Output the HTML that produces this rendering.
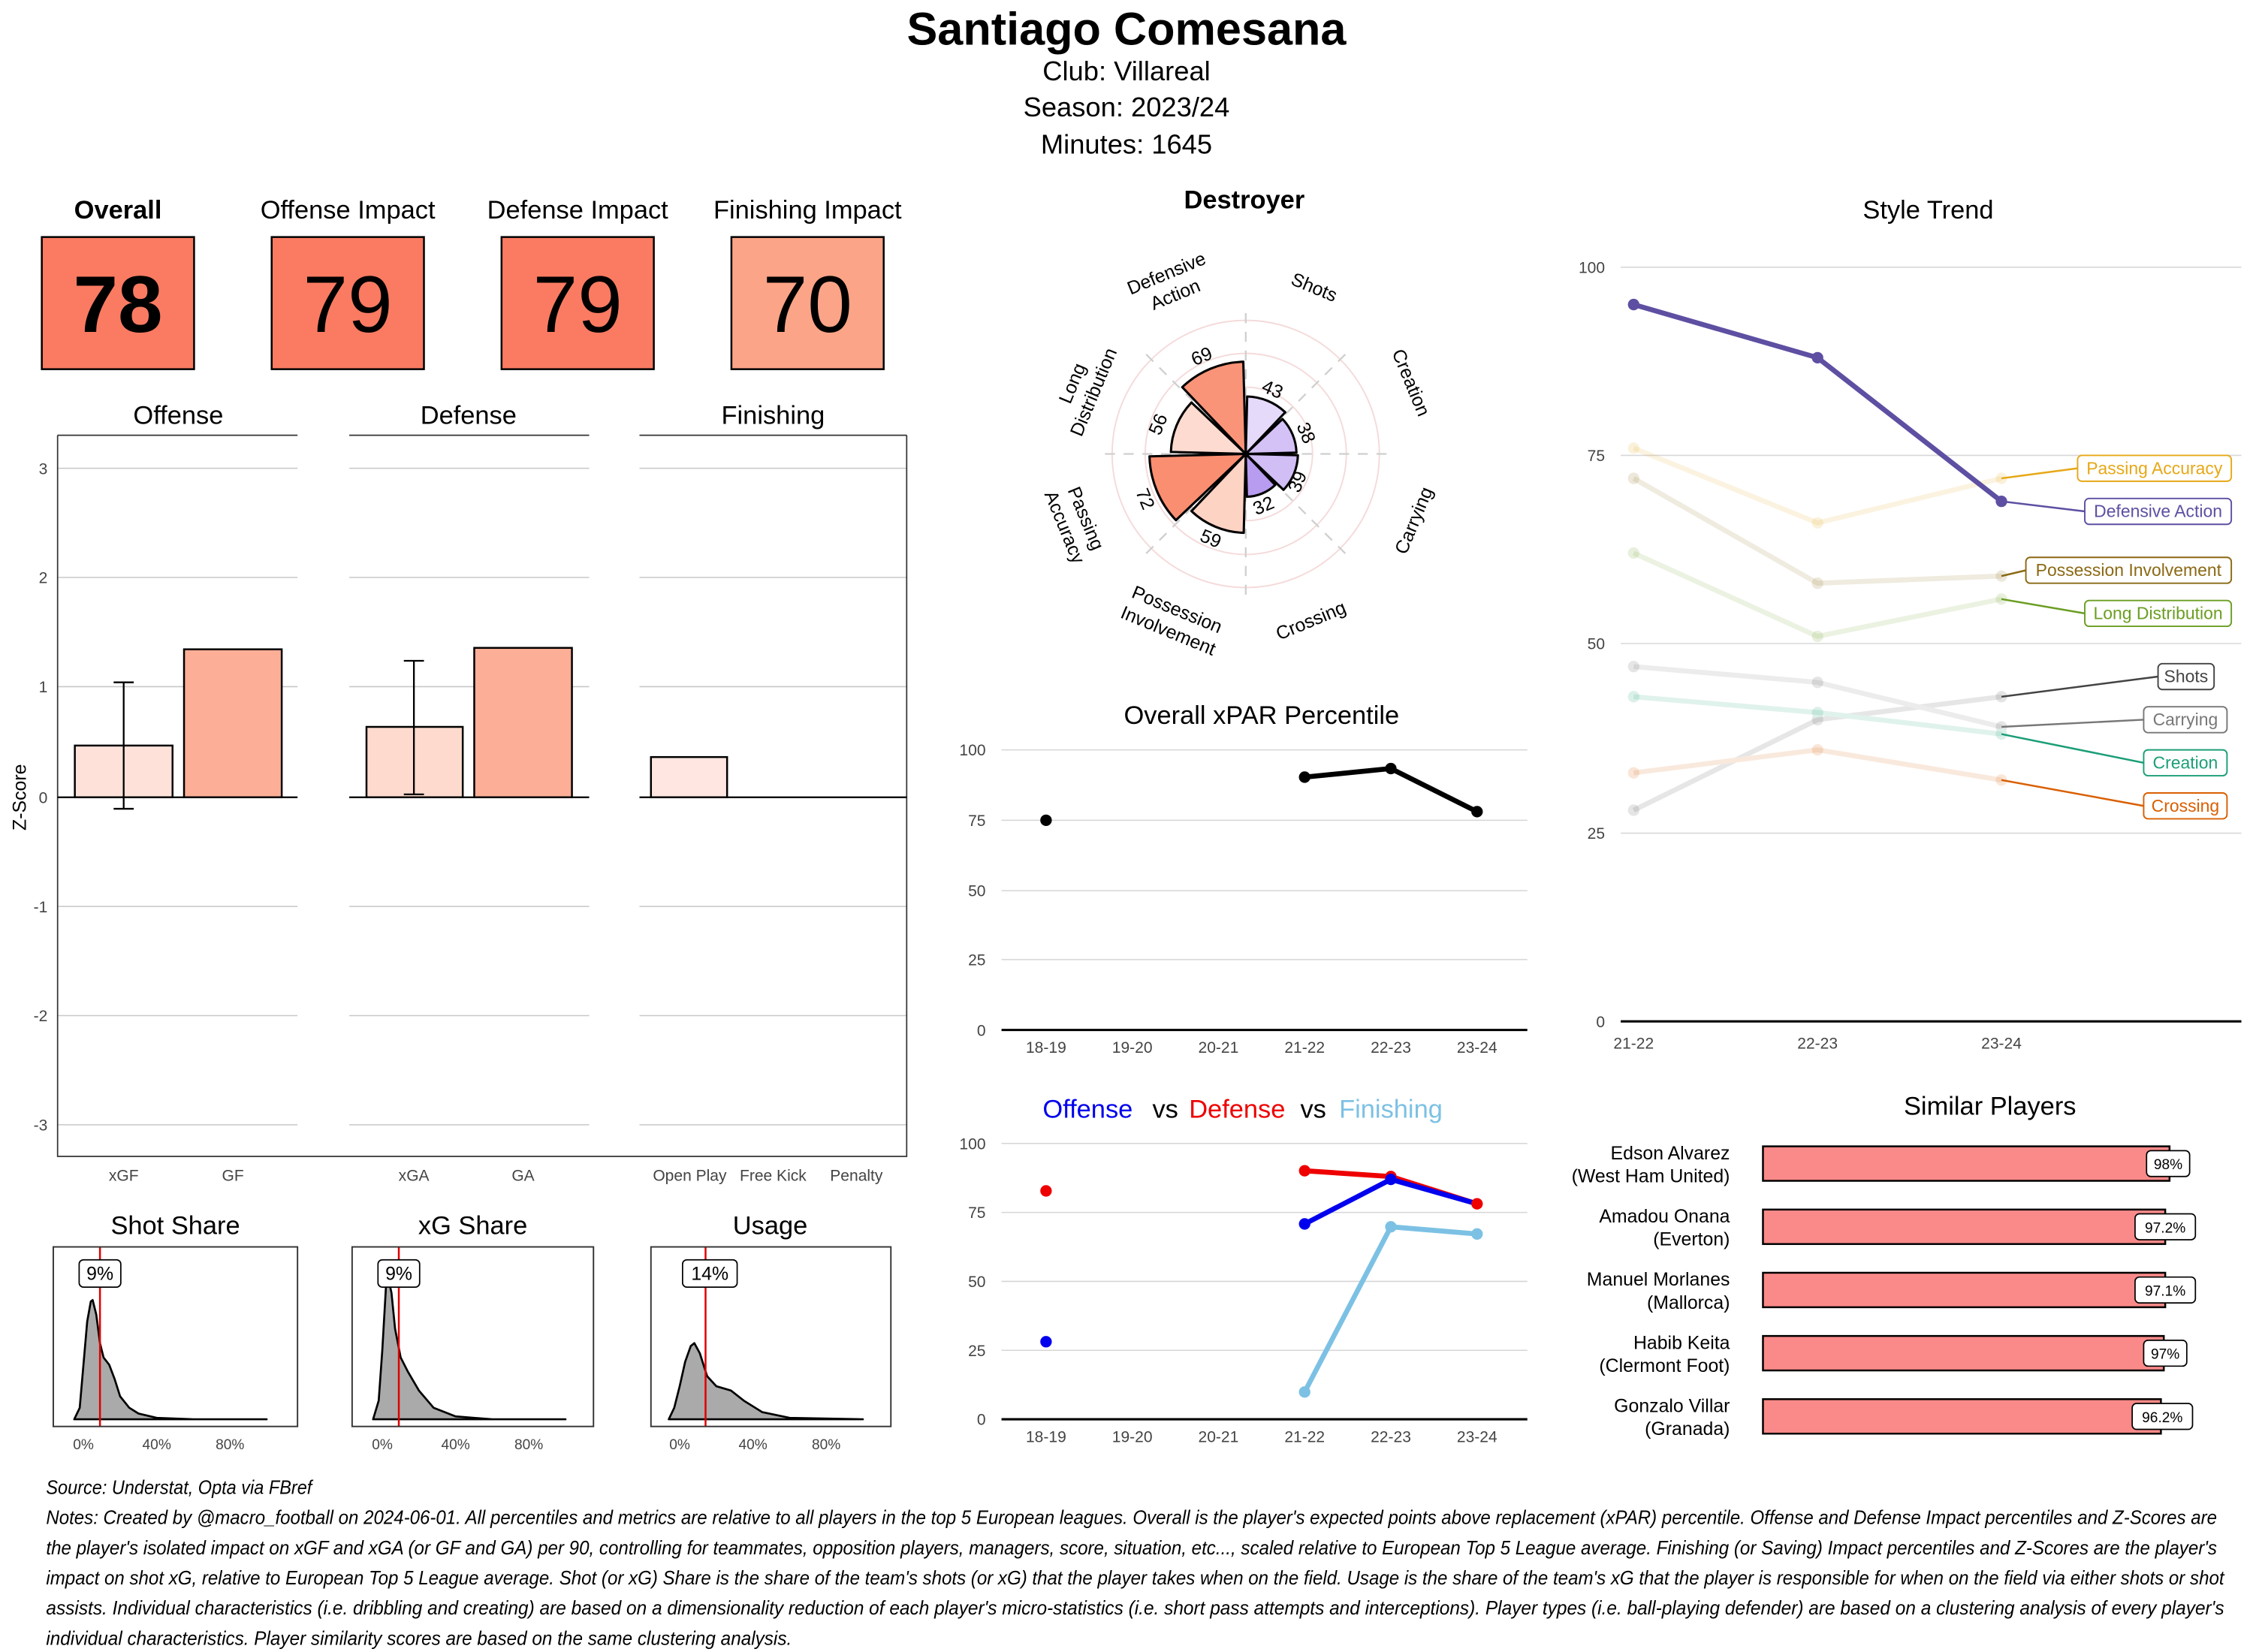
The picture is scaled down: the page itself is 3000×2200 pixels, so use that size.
<!DOCTYPE html>
<html><head><meta charset="utf-8"><style>
html,body{margin:0;padding:0;background:#fff}
svg{display:block}
text{font-family:"Liberation Sans Narrow","Liberation Sans",sans-serif}
.a{font-family:"Liberation Sans",sans-serif}
</style></head><body>
<svg width="3000" height="2200" viewBox="0 0 1568 1150" xmlns="http://www.w3.org/2000/svg">
<rect width="1568" height="1150" fill="#fff"/>
<!-- Header -->
<text x="784" y="31" font-size="32" font-weight="bold" text-anchor="middle">Santiago Comesana</text>
<text x="784" y="56" font-size="19" text-anchor="middle">Club:  Villareal</text>
<text x="784" y="81" font-size="19" text-anchor="middle">Season:  2023/24</text>
<text x="784" y="107" font-size="19" text-anchor="middle">Minutes:  1645</text>

<!-- Score cards -->
<g font-size="18" text-anchor="middle">
<text x="82" y="152" font-weight="bold">Overall</text>
<text x="242" y="152">Offense Impact</text>
<text x="402" y="152">Defense Impact</text>
<text x="562" y="152">Finishing Impact</text>
</g>
<g stroke="#000" stroke-width="1.3">
<rect x="29" y="165" width="106" height="92" fill="#FA7B62"/>
<rect x="189" y="165" width="106" height="92" fill="#FA7B62"/>
<rect x="349" y="165" width="106" height="92" fill="#FA7B62"/>
<rect x="509" y="165" width="106" height="92" fill="#FCA487"/>
</g>
<g font-size="56" text-anchor="middle">
<text x="82" y="231" font-weight="bold">78</text>
<text x="242" y="231">79</text>
<text x="402" y="231">79</text>
<text x="562" y="231">70</text>
</g>

<!-- Z-score bar panels -->
<g font-size="18" text-anchor="middle">
<text x="124" y="295">Offense</text>
<text x="326" y="295">Defense</text>
<text x="538" y="295">Finishing</text>
</g>
<g stroke="#c8c8c8" stroke-width="0.8">
<path d="M40 326H207M40 402H207M40 478H207M40 631H207M40 707H207M40 783H207"/>
<path d="M243 326H410M243 402H410M243 478H410M243 631H410M243 707H410M243 783H410"/>
<path d="M445 326H631M445 402H631M445 478H631M445 631H631M445 707H631M445 783H631"/>
</g>
<g stroke="#333" stroke-width="0.9" fill="none">
<path d="M40 303H207M243 303H410M445 303H631"/>
<path d="M40 303V805H631V303"/>
</g>
<g font-size="11" fill="#444" text-anchor="end" class="a">
<text x="33" y="330">3</text><text x="33" y="406">2</text><text x="33" y="482">1</text>
<text x="33" y="559">0</text><text x="33" y="635">-1</text><text x="33" y="711">-2</text><text x="33" y="787">-3</text>
</g>
<text x="18" y="555" font-size="13" class="a" text-anchor="middle" transform="rotate(-90 18 555)">Z-Score</text>
<g stroke="#000" stroke-width="1.3">
<rect x="52" y="519" width="68" height="36" fill="#FEE2DA"/>
<rect x="128" y="452" width="68" height="103" fill="#FCAE96"/>
<rect x="255" y="506" width="67" height="49" fill="#FDDACD"/>
<rect x="330" y="451" width="68" height="104" fill="#FCAE96"/>
<rect x="453" y="527" width="53" height="28" fill="#FFE6E0"/>
</g>
<g stroke="#000" stroke-width="1.2" fill="none">
<path d="M86 563V475M79 563H93M79 475H93"/>
<path d="M288 553V460M281 553H295M281 460H295"/>
</g>
<path d="M40 555H207M243 555H410M445 555H631" stroke="#000" stroke-width="1.2"/>
<g font-size="11" fill="#444" text-anchor="middle" class="a">
<text x="86" y="822">xGF</text><text x="162" y="822">GF</text>
<text x="288" y="822">xGA</text><text x="364" y="822">GA</text>
<text x="480" y="822">Open Play</text><text x="538" y="822">Free Kick</text><text x="596" y="822">Penalty</text>
</g>

<!-- Density panels -->
<g font-size="18" text-anchor="middle">
<text x="122" y="859">Shot Share</text>
<text x="329" y="859">xG Share</text>
<text x="536" y="859">Usage</text>
</g>
<g fill="#AAAAAA" stroke="#000" stroke-width="1.4" stroke-linejoin="round">
<path d="M51.6 988 L55.4 980 L58 950 L60.6 920 L63.1 906 L64.4 905 L66.9 915 L69.5 935 L72 945 L75.9 950 L79.7 960 L83.5 972 L89.9 980 L96.3 984 L109 987 L134.5 988 L185.5 988 Z"/>
<path d="M259.6 988 L263.5 975 L266 940 L268.6 895 L269.8 888 L272.4 900 L274.9 925 L278.8 945 L283.9 955 L291.5 968 L301.7 980 L317 986 L342.5 988 L393.5 988 Z"/>
<path d="M465.4 988 L469.2 980 L473 965 L476.8 948 L480.7 937 L483.2 935 L487 942 L492.1 958 L498.5 965 L508.7 968 L517.6 975 L530.4 983 L549.5 987 L600.5 988 Z"/>
</g>
<g stroke="#E00000" stroke-width="1.3">
<path d="M69.5 868V993M277.5 868V993M491 868V993"/>
</g>
<g fill="none" stroke="#333" stroke-width="1">
<rect x="37" y="868" width="170" height="125"/>
<rect x="245" y="868" width="168" height="125"/>
<rect x="453" y="868" width="167" height="125"/>
</g>
<g fill="#fff" stroke="#000" stroke-width="0.9">
<rect x="55" y="877" width="29" height="19" rx="3"/>
<rect x="263" y="877" width="29" height="19" rx="3"/>
<rect x="475" y="877" width="38" height="19" rx="3"/>
</g>
<g font-size="13" text-anchor="middle" class="a">
<text x="69.5" y="891">9%</text><text x="277.5" y="891">9%</text><text x="494" y="891">14%</text>
</g>
<g font-size="10" fill="#444" text-anchor="middle" class="a">
<text x="58" y="1009">0%</text><text x="109" y="1009">40%</text><text x="160" y="1009">80%</text>
<text x="266" y="1009">0%</text><text x="317" y="1009">40%</text><text x="368" y="1009">80%</text>
<text x="473" y="1009">0%</text><text x="524" y="1009">40%</text><text x="575" y="1009">80%</text>
</g>

<!-- Polar -->
<text x="866" y="145" font-size="18" font-weight="bold" text-anchor="middle">Destroyer</text>
<g fill="none" stroke="#F5DADA" stroke-width="1">
<circle cx="867" cy="316" r="23"/><circle cx="867" cy="316" r="46.5"/>
<circle cx="867" cy="316" r="70"/><circle cx="867" cy="316" r="93"/>
</g>
<g stroke="#cfcfcf" stroke-width="1.2" stroke-dasharray="7,6">
<path d="M867 316V212M867 316V420M867 316H763M867 316H971M867 316L940.5 242.5M867 316L793.5 242.5M867 316L940.5 389.5M867 316L793.5 389.5"/>
</g>
<g stroke="#000" stroke-width="1.6" stroke-linejoin="round">
<path d="M867 316L868 276A40 40 0 0 1 894.5 287Z" fill="#E6DAFB"/>
<path d="M867 316L892.6 291.7A35.3 35.3 0 0 1 902.3 315.1Z" fill="#D4C2F7"/>
<path d="M867 316L903.3 316.9A36.3 36.3 0 0 1 893.3 341Z" fill="#D0BEF5"/>
<path d="M867 316L887.5 337.6A29.8 29.8 0 0 1 867.8 345.8Z" fill="#B89CF0"/>
<path d="M867 316L865.6 370.9A54.9 54.9 0 0 1 829.2 355.8Z" fill="#FDD3C4"/>
<path d="M867 316L818.4 362.1A67 67 0 0 1 800 317.7Z" fill="#FA8E70"/>
<path d="M867 316L814.9 314.6A52.1 52.1 0 0 1 829.2 280.2Z" fill="#FDDBD0"/>
<path d="M867 316L822.8 269.5A64.2 64.2 0 0 1 865.3 251.8Z" fill="#FA9478"/>
</g>
<g font-size="13" text-anchor="middle" class="a">
<text transform="translate(838,252) rotate(-22.5)">69</text>
<text transform="translate(884,275) rotate(22.5)">43</text>
<text transform="translate(905,303) rotate(67.5)">38</text>
<text transform="translate(907,337) rotate(-67.5)">39</text>
<text transform="translate(881,356) rotate(-22.5)">32</text>
<text transform="translate(841,379) rotate(22.5)">59</text>
<text transform="translate(793,349) rotate(67.5)">72</text>
<text transform="translate(810,297) rotate(-67.5)">56</text>
</g>
<g font-size="13" text-anchor="middle" class="a">
<text transform="translate(815,198) rotate(-22.5)"><tspan x="0" y="-4">Defensive</tspan><tspan x="0" y="12">Action</tspan></text>
<text transform="translate(913,204) rotate(22.5)">Shots</text>
<text transform="translate(978,268) rotate(67.5)">Creation</text>
<text transform="translate(988,364) rotate(-67.5)">Carrying</text>
<text transform="translate(914,436) rotate(-22.5)">Crossing</text>
<text transform="translate(816,432) rotate(22.5)"><tspan x="0" y="-4">Possession</tspan><tspan x="0" y="12">Involvement</tspan></text>
<text transform="translate(748,364) rotate(67.5)"><tspan x="0" y="-4">Passing</tspan><tspan x="0" y="12">Accuracy</tspan></text>
<text transform="translate(754,270) rotate(-67.5)"><tspan x="0" y="-4">Long</tspan><tspan x="0" y="12">Distribution</tspan></text>
</g>

<!-- Overall xPAR -->
<text x="878" y="504" font-size="18" text-anchor="middle">Overall xPAR Percentile</text>
<g stroke="#d5d5d5" stroke-width="0.8"><path d="M697 522H1063M697 571H1063M697 620H1063M697 668H1063"/></g>
<path d="M697 717H1063" stroke="#000" stroke-width="1.6"/>
<g font-size="11" fill="#444" text-anchor="end" class="a">
<text x="686" y="526">100</text><text x="686" y="575">75</text><text x="686" y="624">50</text><text x="686" y="672">25</text><text x="686" y="721">0</text>
</g>
<g font-size="11" fill="#444" text-anchor="middle" class="a">
<text x="728" y="733">18-19</text><text x="788" y="733">19-20</text><text x="848" y="733">20-21</text><text x="908" y="733">21-22</text><text x="968" y="733">22-23</text><text x="1028" y="733">23-24</text>
</g>
<polyline points="908,541 968,535 1028,565" fill="none" stroke="#000" stroke-width="3.5" stroke-linejoin="round"/>
<g fill="#000"><circle cx="728" cy="571" r="4"/><circle cx="908" cy="541" r="4"/><circle cx="968" cy="535" r="4"/><circle cx="1028" cy="565" r="4"/></g>

<!-- Off vs Def vs Fin -->
<g font-size="18" text-anchor="middle">
<text x="757" y="778" fill="#0000EE">Offense</text>
<text x="811" y="778">vs</text>
<text x="861" y="778" fill="#EE0000">Defense</text>
<text x="914" y="778">vs</text>
<text x="968" y="778" fill="#7CC1E4">Finishing</text>
</g>
<g stroke="#d5d5d5" stroke-width="0.8"><path d="M697 796H1063M697 844H1063M697 892H1063M697 940H1063"/></g>
<path d="M697 988H1063" stroke="#000" stroke-width="1.6"/>
<g font-size="11" fill="#444" text-anchor="end" class="a">
<text x="686" y="800">100</text><text x="686" y="848">75</text><text x="686" y="896">50</text><text x="686" y="944">25</text><text x="686" y="992">0</text>
</g>
<g font-size="11" fill="#444" text-anchor="middle" class="a">
<text x="728" y="1004">18-19</text><text x="788" y="1004">19-20</text><text x="848" y="1004">20-21</text><text x="908" y="1004">21-22</text><text x="968" y="1004">22-23</text><text x="1028" y="1004">23-24</text>
</g>
<g fill="none" stroke-width="3.5" stroke-linejoin="round">
<polyline points="908,815 968,819 1028,838" stroke="#EE0000"/>
<polyline points="908,852 968,821 1028,838" stroke="#0000EE"/>
<polyline points="908,969 968,854 1028,859" stroke="#7CC1E4"/>
</g>
<g fill="#EE0000"><circle cx="728" cy="829" r="4"/><circle cx="908" cy="815" r="4"/><circle cx="968" cy="819" r="4"/><circle cx="1028" cy="838" r="4"/></g>
<g fill="#0000EE"><circle cx="728" cy="934" r="4"/><circle cx="908" cy="852" r="4"/><circle cx="968" cy="821" r="4"/></g>
<g fill="#7CC1E4"><circle cx="908" cy="969" r="4"/><circle cx="968" cy="854" r="4"/><circle cx="1028" cy="859" r="4"/></g>

<!-- Style Trend -->
<text x="1342" y="152" font-size="18" text-anchor="middle">Style Trend</text>
<g stroke="#d8d8d8" stroke-width="0.8"><path d="M1128 186H1560M1128 317H1560M1128 448H1560M1128 580H1560"/></g>
<path d="M1128 711H1560" stroke="#000" stroke-width="1.6"/>
<g font-size="11" fill="#444" text-anchor="end" class="a">
<text x="1117" y="190">100</text><text x="1117" y="321">75</text><text x="1117" y="452">50</text><text x="1117" y="584">25</text><text x="1117" y="715">0</text>
</g>
<g font-size="11" fill="#444" text-anchor="middle" class="a">
<text x="1137" y="730">21-22</text><text x="1265" y="730">22-23</text><text x="1393" y="730">23-24</text>
</g>
<g fill="none" stroke-width="3.5" stroke-linejoin="round" opacity="0.13">
<polyline points="1137,312 1265,364 1393,333" stroke="#E6A817"/>
<polyline points="1137,333 1265,406 1393,401" stroke="#8B6914"/>
<polyline points="1137,385 1265,443 1393,417" stroke="#6B9E23"/>
<polyline points="1137,564 1265,501 1393,485" stroke="#444"/>
<polyline points="1137,464 1265,475 1393,506" stroke="#777"/>
<polyline points="1137,485 1265,496 1393,511" stroke="#1B9E77"/>
<polyline points="1137,538 1265,522 1393,543" stroke="#D95F02"/>
</g>
<g opacity="0.15">
<g fill="#E6A817"><circle cx="1137" cy="312" r="4"/><circle cx="1265" cy="364" r="4"/><circle cx="1393" cy="333" r="4"/></g>
<g fill="#8B6914"><circle cx="1137" cy="333" r="4"/><circle cx="1265" cy="406" r="4"/><circle cx="1393" cy="401" r="4"/></g>
<g fill="#6B9E23"><circle cx="1137" cy="385" r="4"/><circle cx="1265" cy="443" r="4"/><circle cx="1393" cy="417" r="4"/></g>
<g fill="#555"><circle cx="1137" cy="564" r="4"/><circle cx="1265" cy="501" r="4"/><circle cx="1393" cy="485" r="4"/><circle cx="1137" cy="464" r="4"/><circle cx="1265" cy="475" r="4"/><circle cx="1393" cy="506" r="4"/></g>
<g fill="#1B9E77"><circle cx="1137" cy="485" r="4"/><circle cx="1265" cy="496" r="4"/><circle cx="1393" cy="511" r="4"/></g>
<g fill="#D95F02"><circle cx="1137" cy="538" r="4"/><circle cx="1265" cy="522" r="4"/><circle cx="1393" cy="543" r="4"/></g>
</g>
<polyline points="1137,212 1265,249 1393,349" fill="none" stroke="#5E4FA2" stroke-width="3.5" stroke-linejoin="round"/>
<g fill="#5E4FA2"><circle cx="1137" cy="212" r="4"/><circle cx="1265" cy="249" r="4"/><circle cx="1393" cy="349" r="4"/></g>
<g fill="none" stroke-width="1.3">
<path d="M1393 333L1446 326" stroke="#E6A817"/>
<path d="M1393 349L1451 356" stroke="#5E4FA2"/>
<path d="M1393 401L1410 397" stroke="#8B6914"/>
<path d="M1393 417L1451 427" stroke="#6B9E23"/>
<path d="M1393 485L1502 471" stroke="#444"/>
<path d="M1393 506L1492 501" stroke="#777"/>
<path d="M1393 511L1492 531" stroke="#1B9E77"/>
<path d="M1393 543L1492 561" stroke="#D95F02"/>
</g>
<g fill="#fff" stroke-width="1">
<rect x="1446" y="317" width="107" height="18" rx="3" stroke="#E6A817"/>
<rect x="1451" y="347" width="102" height="18" rx="3" stroke="#5E4FA2"/>
<rect x="1410" y="388" width="143" height="18" rx="3" stroke="#8B6914"/>
<rect x="1451" y="418" width="102" height="18" rx="3" stroke="#6B9E23"/>
<rect x="1502" y="462" width="39" height="18" rx="3" stroke="#444"/>
<rect x="1492" y="492" width="58" height="18" rx="3" stroke="#777"/>
<rect x="1492" y="522" width="58" height="18" rx="3" stroke="#1B9E77"/>
<rect x="1492" y="552" width="58" height="18" rx="3" stroke="#D95F02"/>
</g>
<g font-size="12" text-anchor="middle" class="a">
<text x="1499.5" y="330" fill="#E6A817">Passing Accuracy</text>
<text x="1502" y="360" fill="#5E4FA2">Defensive Action</text>
<text x="1481.5" y="401" fill="#8B6914">Possession Involvement</text>
<text x="1502" y="431" fill="#6B9E23">Long Distribution</text>
<text x="1521.5" y="475" fill="#444">Shots</text>
<text x="1521" y="505" fill="#777">Carrying</text>
<text x="1521" y="535" fill="#1B9E77">Creation</text>
<text x="1521" y="565" fill="#D95F02">Crossing</text>
</g>

<!-- Similar Players -->
<text x="1385" y="776" font-size="18" text-anchor="middle">Similar Players</text>
<g fill="#FA8A89" stroke="#000" stroke-width="1.3">
<rect x="1227" y="798" width="283" height="24"/>
<rect x="1227" y="842" width="280" height="24"/>
<rect x="1227" y="886" width="280" height="24"/>
<rect x="1227" y="930" width="279" height="24"/>
<rect x="1227" y="974" width="277" height="24"/>
</g>
<g font-size="13" text-anchor="end">
<text x="1204" y="807">Edson Alvarez</text><text x="1204" y="823">(West Ham United)</text>
<text x="1204" y="851">Amadou Onana</text><text x="1204" y="867">(Everton)</text>
<text x="1204" y="895">Manuel Morlanes</text><text x="1204" y="911">(Mallorca)</text>
<text x="1204" y="939">Habib Keita</text><text x="1204" y="955">(Clermont Foot)</text>
<text x="1204" y="983">Gonzalo Villar</text><text x="1204" y="999">(Granada)</text>
</g>
<g fill="#fff" stroke="#000" stroke-width="0.9">
<rect x="1494" y="801" width="30" height="18" rx="3"/>
<rect x="1486" y="845" width="42" height="18" rx="3"/>
<rect x="1486" y="889" width="42" height="18" rx="3"/>
<rect x="1492" y="933" width="30" height="18" rx="3"/>
<rect x="1484" y="977" width="42" height="18" rx="3"/>
</g>
<g font-size="10" text-anchor="middle" class="a">
<text x="1509" y="814">98%</text><text x="1507" y="858">97.2%</text><text x="1507" y="902">97.1%</text><text x="1507" y="946">97%</text><text x="1505" y="990">96.2%</text>
</g>

<!-- Footer -->
<g font-size="13.5" font-style="italic">
<text x="32" y="1040" textLength="185" lengthAdjust="spacingAndGlyphs">Source: Understat, Opta via FBref</text>
<text x="32" y="1061" textLength="1511" lengthAdjust="spacingAndGlyphs">Notes: Created by @macro_football on 2024-06-01. All percentiles and metrics are relative to all players in the top 5 European leagues. Overall is the player's expected points above replacement (xPAR) percentile. Offense and Defense Impact percentiles and Z-Scores are</text>
<text x="32" y="1082" textLength="1511" lengthAdjust="spacingAndGlyphs">the player's isolated impact on xGF and xGA (or GF and GA) per 90, controlling for teammates, opposition players, managers, score, situation, etc..., scaled relative to European Top 5 League average. Finishing (or Saving) Impact percentiles and Z-Scores are the player's</text>
<text x="32" y="1103" textLength="1516" lengthAdjust="spacingAndGlyphs">impact on shot xG, relative to European Top 5 League average. Shot (or xG) Share is the share of the team's shots (or xG) that the player takes when on the field. Usage is the share of the team's xG that the player is responsible for when on the field via either shots or shot</text>
<text x="32" y="1124" textLength="1516" lengthAdjust="spacingAndGlyphs">assists. Individual characteristics (i.e. dribbling and creating) are based on a dimensionality reduction of each player's micro-statistics (i.e. short pass attempts and interceptions). Player types (i.e. ball-playing defender) are based on a clustering analysis of every player's</text>
<text x="32" y="1145" textLength="519" lengthAdjust="spacingAndGlyphs">individual characteristics. Player similarity scores are based on the same clustering analysis.</text>
</g>
</svg>
</body></html>
